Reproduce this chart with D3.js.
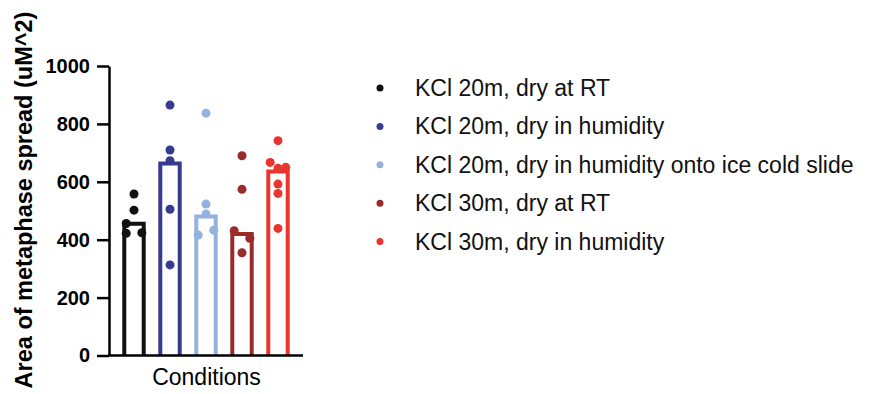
<!DOCTYPE html>
<html lang="en">
<head>
    <meta charset="UTF-8">
    <title>Metaphase spread area</title>
    <script src="https://d3js.org/d3.v7.min.js"></script>
    <style>
        body { margin: 0; background: #fff; }
        text { font-family: "Liberation Sans", Arial, sans-serif; }
    </style>
</head>
<body>
    <svg width="878" height="394"></svg>

    <script>
        // conditions shown in the legend
        const groups = [
            "KCl 20m, dry at RT",
            "KCl 20m, dry in humidity",
            "KCl 20m, dry in humidity onto ice cold slide",
            "KCl 30m, dry at RT",
            "KCl 30m, dry in humidity"
        ];
        const colors = ["#111111", "#363b8e", "#93b2de", "#992b2b", "#e8352f"];

        // bar heights
        const barValues = [455, 663, 480, 420, 636];

        // individual measurements per condition
        const points = [
            [558, 502, 456, 422, 424],
            [865, 710, 673, 505, 313],
            [837, 523, 489, 416, 433],
            [690, 574, 431, 405, 355],
            [742, 667, 647, 650, 592, 560, 439]
        ];
        // sideways spread of the dots (-1 left, 0 centre, 1 right)
        const spread = [
            [0, 0, -1, -1, 1],
            [0, 0, 0, 0, 0],
            [0, 0, 0, -1, 1],
            [0, 0, -1, 1, 0],
            [0, -1, 0, 1, 0, 0, 0]
        ];

        const yTicks = [0, 200, 400, 600, 800, 1000];

        const svg = d3.select("svg");

        const x = d3.scaleBand()
            .domain(groups)
            .range([116, 296])
            .paddingInner(0.46)
            .paddingOuter(0.23);

        const y = d3.scaleLinear()
            .domain([0, 1000])
            .range([355.5, 66]);

        const step = 7.8;

        // bars, open at the bottom
        svg.append("g")
            .selectAll("path")
            .data(groups)
            .enter()
            .append("path")
            .attr("d", (d, i) => {
                const x0 = x(d), x1 = x(d) + x.bandwidth();
                return `M${x0},${y(0)}V${y(barValues[i])}H${x1}V${y(0)}`;
            })
            .attr("fill", "none")
            .attr("stroke", (d, i) => colors[i])
            .attr("stroke-width", 4);

        // dots
        groups.forEach((g, i) => {
            const cx = x(g) + x.bandwidth() / 2;
            svg.append("g")
                .selectAll("circle")
                .data(points[i])
                .enter()
                .append("circle")
                .attr("cx", (d, j) => cx + spread[i][j] * step)
                .attr("cy", d => y(d))
                .attr("r", 4.5)
                .attr("fill", colors[i]);
        });

        // y axis
        const yAxis = svg.append("g")
            .attr("transform", "translate(109,0)")
            .call(d3.axisLeft(y).tickValues(yTicks).tickFormat(d3.format("d"))
                .tickSize(12).tickPadding(7).tickSizeOuter(0));
        yAxis.select(".domain").attr("stroke", "#000").attr("stroke-width", 2.5);
        yAxis.selectAll(".tick line").attr("stroke", "#000").attr("stroke-width", 2.5);
        yAxis.selectAll(".tick text")
            .attr("fill", "#000")
            .style("font-size", "20px")
            .style("font-weight", "bold")
            .style("font-family", "'Liberation Sans', Arial, sans-serif");

        // x axis line
        svg.append("line")
            .attr("x1", 108).attr("x2", 303)
            .attr("y1", y(0)).attr("y2", y(0))
            .attr("stroke", "#000")
            .attr("stroke-width", 2.5);

        svg.append("text")
            .attr("x", 206.5)
            .attr("y", 385)
            .attr("text-anchor", "middle")
            .style("font-size", "23px")
            .text("Conditions");

        svg.append("text")
            .attr("transform", "translate(32,200) rotate(-90)")
            .attr("text-anchor", "middle")
            .style("font-size", "23.5px")
            .style("font-weight", "bold")
            .text("Area of metaphase spread (uM^2)");

        // legend
        const legend = svg.append("g")
            .selectAll("g")
            .data(groups)
            .enter()
            .append("g")
            .attr("transform", (d, i) => `translate(380,${88 + i * 38.4})`);

        legend.append("circle")
            .attr("r", 3.5)
            .attr("fill", (d, i) => colors[i]);

        legend.append("text")
            .attr("x", 35)
            .attr("dy", "0.35em")
            .style("font-size", "23px")
            .attr("fill", "#111")
            .text(d => d);
    </script>
</body>
</html>
